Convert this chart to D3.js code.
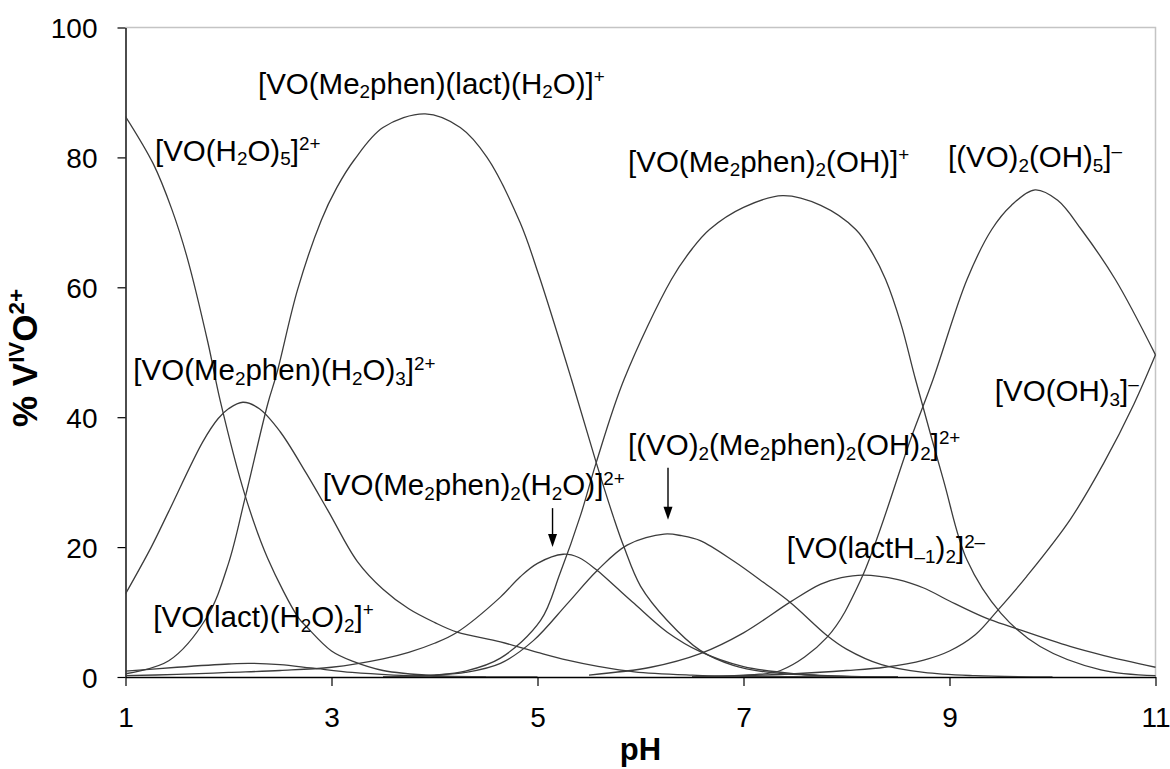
<!DOCTYPE html>
<html>
<head>
<meta charset="utf-8">
<script src="https://cdn.jsdelivr.net/npm/d3@7"></script>
<style>
  html, body { margin: 0; padding: 0; background: #fff; }
  svg { display: block; }
  text { font-family: "Liberation Sans", Arial, Helvetica, sans-serif; fill: #000; }
</style>
</head>
<body>
<svg id="chart" width="1170" height="769"></svg>
<script>
// ---------------- data (pH, % of total VIVO2+) ----------------
const xTicks = [1, 3, 5, 7, 9, 11];
const yTicks = [0, 20, 40, 60, 80, 100];

const freeVO = [[1.0,86.3],[1.27,79.0],[1.45,72.0],[1.6,64.5],[1.8,51.5],[1.92,42.5],[2.16,28],[2.38,18.3],[2.68,9.1],[2.76,7.7],[3.0,4.0],[3.21,2.4],[3.5,1.0],[4.0,0.2],[4.5,0.03],[5.0,0]];
const voPhen = [[1.0,12.8],[1.25,20],[1.42,25.5],[1.75,36.2],[1.9,39.8],[2.0,41.3],[2.14,42.3],[2.3,41.3],[2.5,37.8],[2.75,31.5],[2.97,25.5],[3.25,17.8],[3.5,13.5],[3.75,10.5],[4.0,8.4],[4.22,6.9],[4.64,5.4],[5.0,3.8],[5.29,2.6],[5.6,1.6],[5.94,0.8],[6.5,0.3],[7.0,0.1],[8.0,0]];
const voPhenLact = [[1.0,0.5],[1.42,2.5],[1.79,9.2],[2.0,17.5],[2.16,27.5],[2.38,42],[2.47,46.8],[2.67,59.6],[2.9,70.3],[3.05,75.3],[3.22,79.6],[3.5,84.6],[3.91,86.7],[4.25,84.6],[4.51,80],[4.83,70],[5.01,62],[5.33,45.8],[5.57,33],[5.74,24.5],[5.84,20],[6.0,14],[6.26,8.7],[6.58,4.1],[6.9,1.8],[7.25,0.7],[7.75,0.2],[8.5,0]];
const voLact = [[1.0,0.9],[1.5,1.5],[2.0,2.0],[2.2,2.1],[2.5,1.9],[2.8,1.4],[3.2,0.7],[3.6,0.3],[4.0,0.1],[4.5,0]];
const voPhen2H2O = [[1.0,0.2],[1.5,0.4],[2.0,0.7],[2.5,1.0],[3.0,1.5],[3.5,2.8],[3.75,3.8],[4.0,5.2],[4.22,6.9],[4.64,12.3],[4.83,15.4],[5.0,17.5],[5.25,18.9],[5.4,18.4],[5.58,16.4],[5.75,14.0],[5.94,11.3],[6.26,6.9],[6.58,3.9],[7.0,1.6],[7.5,0.5],[8.0,0.1],[8.5,0]];
const dimerPhen = [[3.5,0],[4.0,0.3],[4.3,0.7],[4.64,2.1],[4.96,5.6],[5.29,11.3],[5.58,16.4],[5.87,20.3],[6.23,22],[6.4,21.75],[6.58,21.0],[6.9,17.9],[7.2,14.5],[7.46,11.4],[7.81,6.4],[8.0,4.3],[8.34,1.9],[8.75,0.7],[9.25,0.2],[10.0,0]];
const voPhen2OH = [[3.5,0],[4.0,0.3],[4.3,0.9],[4.64,2.9],[5.03,8.7],[5.22,16],[5.42,25],[5.57,33],[5.84,45.8],[6.3,61.2],[6.5,65.9],[6.67,68.9],[7.0,72.3],[7.38,74.1],[7.75,72.6],[8.09,68.9],[8.25,65.3],[8.38,61.2],[8.53,54.3],[8.67,45.8],[8.94,30.4],[9.17,18],[9.5,9.8],[9.88,4.7],[10.47,1.1],[11.0,0.2]];
const dimerOH5 = [[6.5,0],[7.0,0.3],[7.36,1.0],[7.81,6.1],[8.14,15],[8.62,36.5],[8.84,45.8],[9.17,61.2],[9.41,68.9],[9.6,72.6],[9.83,75],[10.05,73.4],[10.28,68.9],[10.61,61.2],[11.0,49.6]];
const voOH3 = [[6.5,0],[7.0,0.2],[7.5,0.5],[8.0,1.0],[8.37,1.5],[8.75,2.6],[9.0,4.0],[9.25,6.5],[9.47,10.3],[9.75,15.5],[10.17,24.2],[10.5,33],[10.79,42],[11.0,49.6]];
const voLactH = [[5.5,0.3],[6.1,1.5],[6.58,3.6],[7.0,6.8],[7.46,11.6],[7.75,14.3],[7.95,15.3],[8.16,15.7],[8.5,15.0],[8.75,13.7],[9.0,11.7],[9.35,9.1],[9.62,7.6],[10.17,4.7],[10.5,3.3],[11.0,1.5]];

const seriesList = [freeVO, voPhen, voPhenLact, voLact, voPhen2H2O, dimerPhen, voPhen2OH, dimerOH5, voOH3, voLactH];

// species labels, anchored at (pH, %) of the text start / baseline
const labelText = [
  "[VO(Me_{2}phen)(lact)(H_{2}O)]^{+}",
  "[VO(H_{2}O)_{5}]^{2+}",
  "[VO(Me_{2}phen)_{2}(OH)]^{+}",
  "[(VO)_{2}(OH)_{5}]^{–}",
  "[VO(Me_{2}phen)(H_{2}O)_{3}]^{2+}",
  "[VO(OH)_{3}]^{–}",
  "[(VO)_{2}(Me_{2}phen)_{2}(OH)_{2}]^{2+}",
  "[VO(Me_{2}phen)_{2}(H_{2}O)]^{2+}",
  "[VO(lactH_{–1})_{2}]^{2–}",
  "[VO(lact)(H_{2}O)_{2}]^{+}"
];
const labelPH  = [2.286, 1.286, 5.879, 8.985, 1.076, 9.44, 5.879, 2.914, 7.42, 1.27];
const labelPct = [89.8, 79.5, 77.8, 78.5, 45.7, 42.5, 34.2, 28.0, 18.3, 7.7];

// arrows: pH, start %, end %
const arrowPH   = [5.146, 6.267];
const arrowFrom = [26.0, 32.2];
const arrowTo   = [20.0, 24.2];

// ---------------- drawing ----------------
const svg = d3.select("#chart");
const x = d3.scaleLinear().domain([1, 11]).range([125.5, 1155.5]);
const y = d3.scaleLinear().domain([0, 100]).range([677, 27.5]);

svg.append("defs").append("clipPath").attr("id", "plotClip")
  .append("rect").attr("x", x(1)).attr("y", y(100) - 5)
  .attr("width", x(11) - x(1) + 1).attr("height", y(0) - y(100) + 5);

// gray plot frame (top & right)
svg.append("path")
  .attr("d", `M${x(1)},${y(100)}H${x(11)}V${y(0)}`)
  .attr("fill", "none").attr("stroke", "#c4c4c4").attr("stroke-width", 1.5);

const yAxis = svg.append("g").attr("transform", `translate(${x(1)},0)`)
  .call(d3.axisLeft(y).tickValues(yTicks).tickSize(8).tickPadding(20).tickSizeOuter(0));
const xAxis = svg.append("g").attr("transform", `translate(0,${y(0)})`)
  .call(d3.axisBottom(x).tickValues(xTicks).tickSize(9).tickPadding(21).tickSizeOuter(0));

[yAxis, xAxis].forEach(g => {
  g.select(".domain").attr("stroke", "#000").attr("stroke-width", 1.4);
  g.selectAll(".tick line").attr("stroke", "#000").attr("stroke-width", 1.2);
  g.selectAll(".tick text").attr("font-size", 28).attr("fill", "#000")
    .style("font-family", '"Liberation Sans", Arial, sans-serif');
});
yAxis.selectAll(".tick text").attr("dy", "0.36em");

// curves
const line = d3.line().x(d => x(d[0])).y(d => y(d[1])).curve(d3.curveCatmullRom.alpha(0.5));
svg.append("g").attr("clip-path", "url(#plotClip)")
  .selectAll("path").data(seriesList).join("path")
  .attr("d", line).attr("fill", "none")
  .attr("stroke", "#3c3c3c").attr("stroke-width", 1.3);

// rich text helper (sub/superscripts)
function richText(sel, str, fs, ratio) {
  const parts = str.split(/(_\{[^}]*\}|\^\{[^}]*\})/).filter(s => s.length);
  let shift = 0;
  parts.forEach(p => {
    let type = "n", txt = p;
    if (p.startsWith("_{")) { type = "sub"; txt = p.slice(2, -1); }
    else if (p.startsWith("^{")) { type = "sup"; txt = p.slice(2, -1); }
    const target = type === "sub" ? fs * 0.16 : type === "sup" ? -fs * 0.36 : 0;
    sel.append("tspan")
      .attr("dy", target - shift)
      .attr("font-size", type === "n" ? fs : fs * ratio)
      .text(txt);
    shift = target;
  });
}

// species labels
labelText.forEach((t, i) => {
  const tx = svg.append("text")
    .attr("x", x(labelPH[i])).attr("y", y(labelPct[i]))
    .attr("font-size", 29.5);
  richText(tx, t, 29.5, 0.64);
});

// arrows
arrowPH.forEach((p, i) => {
  const ax = x(p), y0 = y(arrowFrom[i]), y1 = y(arrowTo[i]);
  svg.append("line").attr("x1", ax).attr("x2", ax).attr("y1", y0).attr("y2", y1 - 10)
    .attr("stroke", "#000").attr("stroke-width", 1.4);
  svg.append("path").attr("d", `M${ax - 4.5},${y1 - 13}L${ax + 4.5},${y1 - 13}L${ax},${y1}Z`)
    .attr("fill", "#000");
});

// axis titles
svg.append("text").attr("x", x(6)).attr("y", 760)
  .attr("text-anchor", "middle").attr("font-size", 31).attr("font-weight", "bold").text("pH");

const yt = svg.append("text")
  .attr("transform", "translate(37,358) rotate(-90)")
  .attr("text-anchor", "middle").attr("font-size", 35).attr("font-weight", "bold");
richText(yt, "% V^{IV}O^{2+}", 35, 0.64);
</script>
</body>
</html>
